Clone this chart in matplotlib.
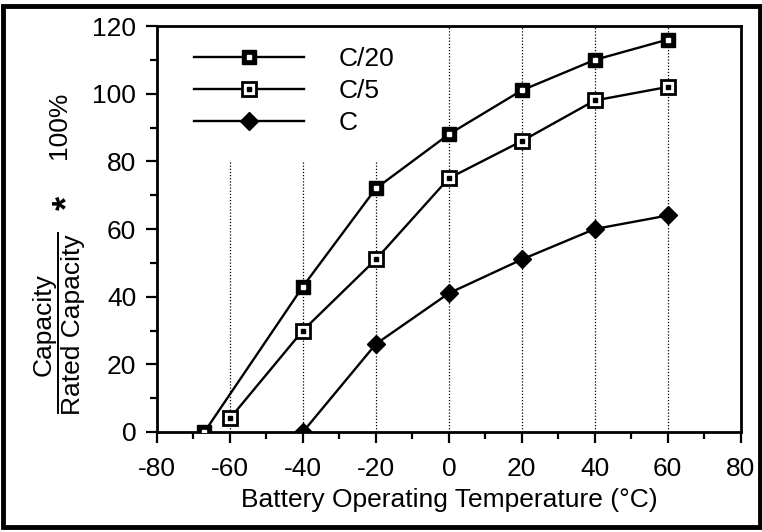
import matplotlib.pyplot as plt
from matplotlib.patches import Rectangle
from matplotlib.lines import Line2D

plt.rcParams['font.family'] = ['Liberation Sans', 'DejaVu Sans']
plt.rcParams['axes.unicode_minus'] = False

# data
temp_c20 = [-67, -40, -20, 0, 20, 40, 60]
cap_c20 = [0, 43, 72, 88, 101, 110, 116]
temp_c5 = [-60, -40, -20, 0, 20, 40, 60]
cap_c5 = [4, 30, 51, 75, 86, 98, 102]
temp_c = [-40, -20, 0, 20, 40, 60]
cap_c = [0, 26, 41, 51, 60, 64]

xticks = [-80, -60, -40, -20, 0, 20, 40, 60, 80]
yticks = [0, 20, 40, 60, 80, 100, 120]

fig = plt.figure(figsize=(7.62, 5.32), dpi=100)
ax = fig.add_axes([0.206, 0.188, 0.766, 0.763])

# vertical dotted grid
for xv in xticks[1:-1]:
    ax.axvline(xv, color='black', lw=0.9, ls=(0, (1, 1.5)), zorder=1)

lw = 1.7
ms = 10
l1, = ax.plot(temp_c20, cap_c20, color='black', lw=lw, marker='s', ms=ms,
              mfc='black', mec='black', zorder=3)
d1, = ax.plot(temp_c20, cap_c20, ls='none', marker='s', ms=2.2, mfc='white',
              mec='white', zorder=4)
l2, = ax.plot(temp_c5, cap_c5, color='black', lw=lw, marker='s', ms=ms,
              mfc='white', mec='black', mew=2, zorder=3)
d2, = ax.plot(temp_c5, cap_c5, ls='none', marker='s', ms=2.2, mfc='black',
              mec='black', zorder=4)
l3, = ax.plot(temp_c, cap_c, color='black', lw=lw, marker='D', ms=9,
              mfc='black', mec='black', zorder=3)

leg = ax.legend([(l1, d1), (l2, d2), l3], ['C/20', 'C/5', 'C'],
                loc='upper left', bbox_to_anchor=(-0.005, 1.045),
                fontsize=19, handlelength=4.2, handletextpad=1.3,
                labelspacing=0.3, borderpad=1.0, frameon=True,
                fancybox=False, framealpha=1)
leg.get_frame().set_facecolor('white')
leg.get_frame().set_edgecolor('none')
leg.set_zorder(2)

ax.set_xlim(-80, 80)
ax.set_ylim(0, 120)
ax.set_xticks(xticks)
ax.set_yticks(yticks)
ax.set_xticks(range(-80, 81, 10), minor=True)
ax.set_yticks(range(0, 121, 10), minor=True)
ax.tick_params(axis='both', which='major', direction='out', length=8,
               width=1.6, labelsize=19, pad=7)
ax.tick_params(axis='x', which='major', pad=10)
ax.tick_params(axis='both', which='minor', direction='out', length=5,
               width=1.6)
for s in ax.spines.values():
    s.set_linewidth(2)

ax.set_xlabel('Battery Operating Temperature (°C)', fontsize=19, labelpad=5)

# fraction style y label
fig.text(0.057, 0.389, 'Capacity', rotation=90, fontsize=19,
         ha='center', va='center')
fig.text(0.096, 0.389, 'Rated Capacity', rotation=90, fontsize=19,
         ha='center', va='center')
fig.add_artist(Line2D([0.076, 0.076], [0.224, 0.562], color='black', lw=1.4))
fig.text(0.090, 0.618, '*', rotation=90, fontsize=26, fontweight='bold',
         ha='center', va='center')
fig.text(0.078, 0.765, '100%', rotation=90, fontsize=19, ha='center',
         va='center')

# outer frame
fig.add_artist(Rectangle((0.004, 0.01), 0.993, 0.978, fill=False,
                         ec='black', lw=3.5, transform=fig.transFigure))

fig.savefig('out.png', dpi=100)
